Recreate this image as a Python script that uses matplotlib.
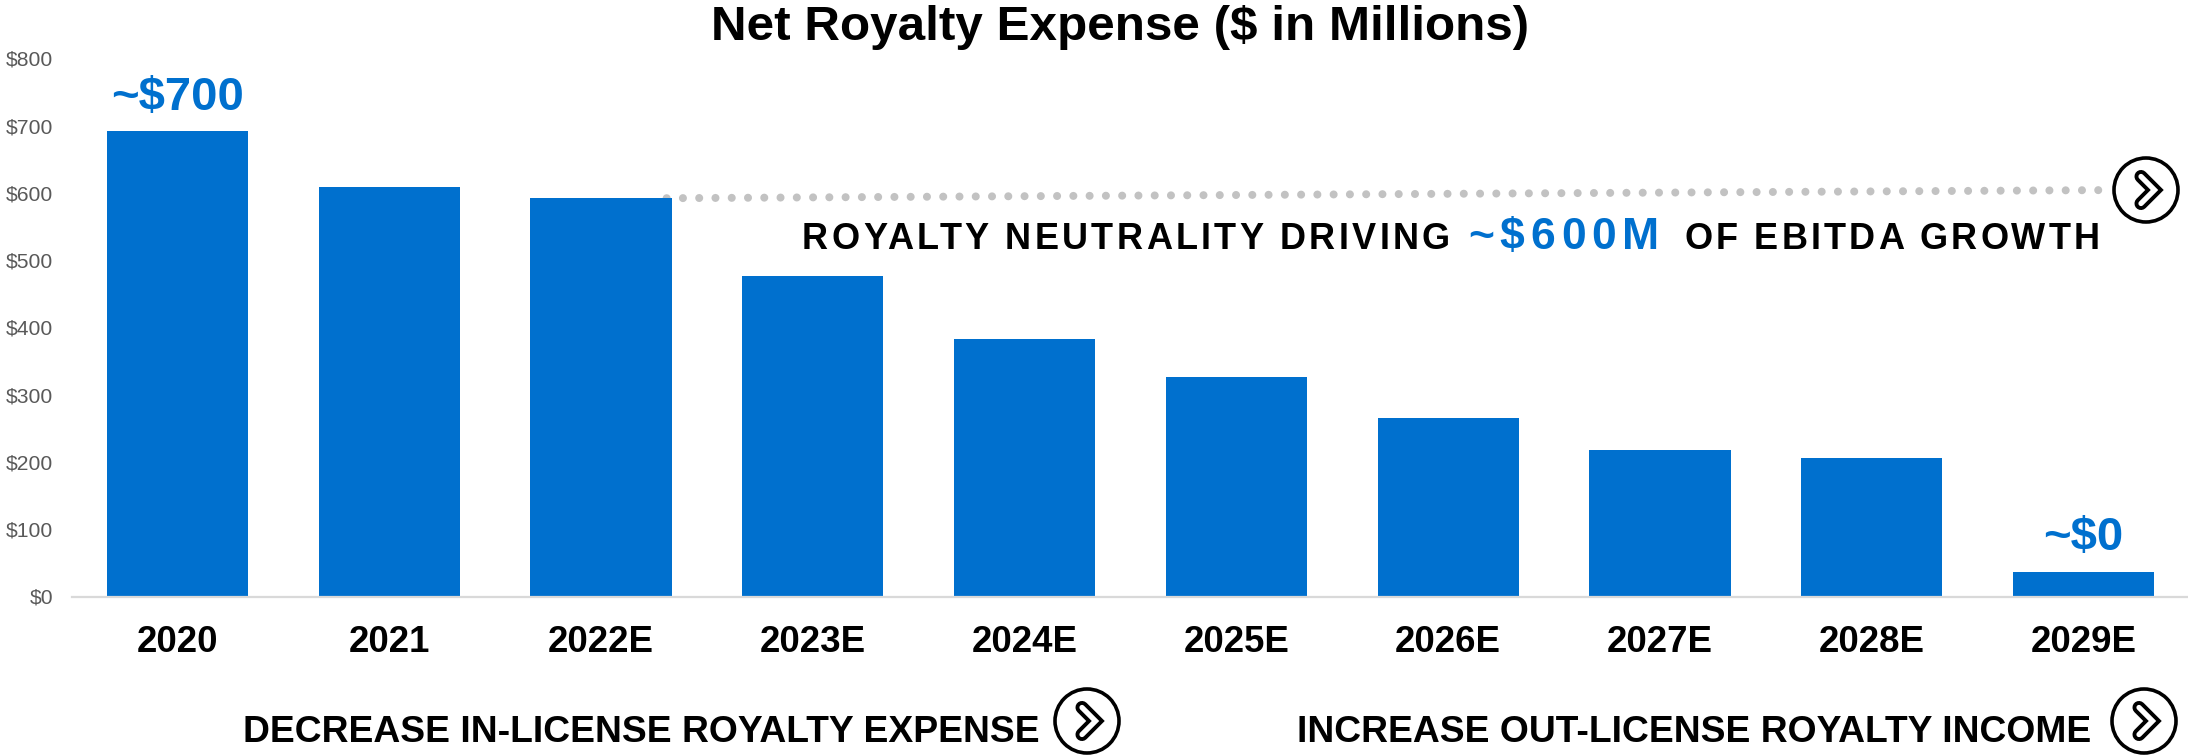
import matplotlib
matplotlib.use("Agg")
import matplotlib.pyplot as plt
from matplotlib.patches import Circle
from matplotlib.text import Text
from matplotlib.transforms import ScaledTranslation

plt.rcParams['font.family'] = ['Liberation Sans', 'DejaVu Sans']

W, H, DPI = 2188, 756, 100
BLUE = '#0070CE'

years = ['2020', '2021', '2022E', '2023E', '2024E', '2025E', '2026E', '2027E', '2028E', '2029E']
royalty_expense = [693, 609, 593, 477, 384, 327, 266, 219, 207, 37]
y_ticks = [0, 100, 200, 300, 400, 500, 600, 700, 800]
neutrality_level = 605


class TrackedText(Text):
    """Text drawn glyph by glyph with extra letter spacing (in pixels)."""

    def __init__(self, x, y, s, tracking=0.0, **kw):
        super().__init__(x, y, s, **kw)
        self._tracking = tracking

    def draw(self, renderer):
        s = self.get_text()
        fp = self.get_fontproperties()
        x0, y0 = self.get_transform().transform((self._x, self._y))
        for i, ch in enumerate(s):
            prefix = renderer.get_text_width_height_descent(s[:i + 1], fp, False)[0]
            own = renderer.get_text_width_height_descent(ch, fp, False)[0]
            px = x0 + prefix - own + i * self._tracking
            glyph = Text(px, y0, ch, fontproperties=fp, color=self.get_color(),
                         va='baseline', ha='left', figure=self.get_figure())
            glyph.draw(renderer)


def px_x(v):
    return v / W


def px_y(v):
    return 1 - v / H


fig = plt.figure(figsize=(W / DPI, H / DPI), dpi=DPI, facecolor='white')

# Main bar chart
ax = fig.add_axes([px_x(71.5), px_y(597), 2118 / W, (597 - 59) / H])
ax.bar(range(len(years)), royalty_expense, width=0.667, color=BLUE, zorder=2)
ax.set_xlim(-0.5, 9.5)
ax.set_ylim(0, 800)
ax.set_yticks(y_ticks, [f'${v}' for v in y_ticks])
ax.set_xticks(range(len(years)), years)
ax.tick_params(axis='y', length=0, pad=13, labelsize=15.2, labelcolor='#595959')
ax.tick_params(axis='x', length=0, pad=20, labelsize=26.4)
for lab in ax.get_xticklabels():
    lab.set_fontweight('bold')
nudge_up = ScaledTranslation(0, 0.7 / DPI, fig.dpi_scale_trans)
for lab in ax.get_yticklabels():
    lab.set_transform(lab.get_transform() + nudge_up)
for side in ('top', 'right', 'left'):
    ax.spines[side].set_visible(False)
ax.spines['bottom'].set_color('#d9d9d9')
ax.spines['bottom'].set_linewidth(1.6)

# Dotted guide from behind the 2022E bar towards the neutrality call-out
ax.plot([2.31, 9.07], [royalty_expense[2], neutrality_level],
        color='#c2c2c2', lw=5.8, linestyle=(0, (0.001, 16.26 / (5.8 * DPI / 72))),
        dash_capstyle='round', zorder=1, clip_on=False)

ax.text(0, 742, '~$700', color=BLUE, fontsize=34, fontweight='bold', ha='center', va='center')
ax.text(9, 88, '~$0', color=BLUE, fontsize=34, fontweight='bold', ha='center', va='center')

# Overlay in pixel coordinates for the call-outs
ov = fig.add_axes([0, 0, 1, 1], facecolor='none')
ov.set_xlim(0, W)
ov.set_ylim(H, 0)
ov.axis('off')


def tracked(x, y, s, tracking, size, color='black'):
    t = TrackedText(x, y, s, tracking=tracking, fontsize=size, fontweight='bold',
                    color=color, va='baseline', ha='left', transform=ov.transData)
    ov.add_artist(t)
    return t


def chevron_icon(cx, cy, r=32):
    ov.add_patch(Circle((cx, cy), r, fill=False, ec='black', lw=2.6))
    xs = [cx - 5, cx + 8.5, cx - 5]
    ys = [cy - 13.5, cy, cy + 13.5]
    ov.plot(xs, ys, color='black', lw=9.4, solid_capstyle='round', solid_joinstyle='miter')
    ov.plot(xs, ys, color='white', lw=3.8, solid_capstyle='round', solid_joinstyle='miter')


ov.text(1120, 40, 'Net Royalty Expense ($ in Millions)', fontsize=35.6, fontweight='bold',
        ha='center', va='baseline')

tracked(802, 249, 'ROYALTY NEUTRALITY DRIVING', 3.37, 26)
tracked(1468, 249, '~$600M', 5.9, 32, color=BLUE)
tracked(1684, 249, 'OF EBITDA GROWTH', 3.25, 26)

ov.text(243, 742, 'DECREASE IN-LICENSE ROYALTY EXPENSE', fontsize=26.8, fontweight='bold',
        ha='left', va='baseline')
ov.text(1297, 742, 'INCREASE OUT-LICENSE ROYALTY INCOME', fontsize=26.8, fontweight='bold',
        ha='left', va='baseline')

chevron_icon(2146, 190)
chevron_icon(1087, 721)
chevron_icon(2144, 721)

fig.savefig('out.png', dpi=DPI, facecolor='white')
